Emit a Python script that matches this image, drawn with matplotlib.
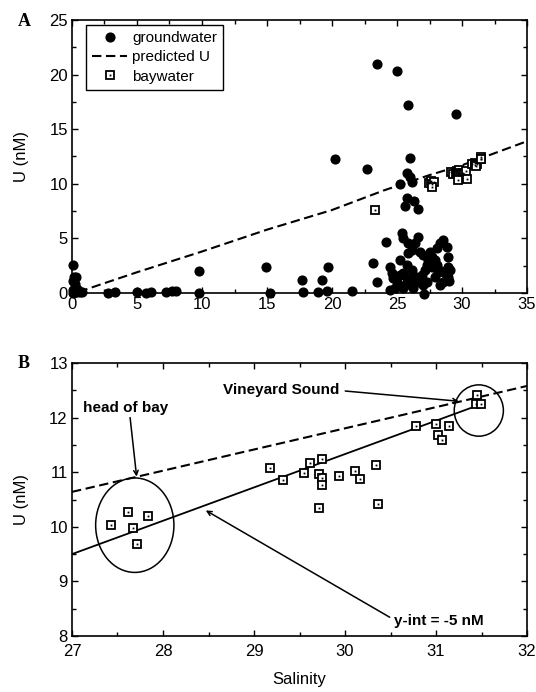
"""Uranium vs salinity: groundwater / baywater scatter with predicted mixing line."""

import matplotlib.pyplot as plt
from matplotlib.patches import Ellipse
from matplotlib.ticker import MultipleLocator

plt.rcParams["font.family"] = ["Liberation Sans", "DejaVu Sans"]

# groundwater samples (salinity, U nM)
gw_salinity = [
    0.1, 0.15, 0.3, 0.1, 0.2, 0.3, 0.1, 0.2, 0.4, 0.6, 0.8, 0.5, 0.05,
    2.8, 3.3, 5.0, 5.7, 6.05, 7.2, 7.67, 8.0, 9.8, 9.8,
    14.9, 15.2, 17.7, 17.8, 18.9, 19.2, 19.6, 19.7, 20.2, 21.5, 22.7,
    23.49, 24.97, 25.82, 29.54,
    26.0, 25.74, 25.99, 26.12, 25.23, 25.74, 26.30, 25.61, 26.64,
    24.15, 25.41, 25.48, 25.87, 26.12, 26.64, 26.38, 26.77, 26.97, 28.30,
    28.56, 28.82, 28.05, 27.53, 27.66, 27.41, 27.28, 27.15, 26.89, 26.77,
    27.02, 27.28, 23.18, 23.43, 24.46, 24.59, 24.71, 24.97, 25.23, 25.23,
    25.74, 25.48, 25.74, 25.61, 26.0, 26.25, 26.12, 24.46, 27.05, 27.92,
    28.18, 28.69, 28.95, 29.07, 28.95, 28.56, 28.30, 27.66, 28.05, 27.92,
    24.84, 26.25, 26.51, 25.48, 25.87, 28.9, 29.0, 28.4,
]
gw_u = [
    2.6, 1.5, 1.5, 1.1, 0.8, 0.5, 0.3, 0.1, 0.05, 0.1, 0.1, 0.3, 0.0,
    0.0, 0.12, 0.1, 0.0, 0.1, 0.1, 0.2, 0.2, 2.04, 0.0,
    2.35, 0.0, 1.19, 0.07, 0.07, 1.2, 0.2, 2.35, 12.24, 0.2, 11.4,
    20.97, 20.33, 17.19, 16.36,
    12.4, 10.96, 10.65, 10.2, 9.95, 8.67, 8.46, 7.97, 7.66,
    4.7, 5.46, 5.01, 4.55, 3.94, 5.10, 4.55, 3.79, 3.48, 4.55,
    4.85, 4.24, 4.09, 3.79, 3.33, 3.02, 2.56, 2.11, 1.65, 1.19,
    0.73, 1.04, 2.72, 1.04, 2.41, 1.8, 1.34, 1.04, 1.65, 3.02,
    2.56, 1.80, 1.34, 0.73, 0.89, 1.65, 2.11, 0.28, -0.05, 1.5,
    1.95, 1.8, 2.41, 2.11, 3.33, 1.04, 0.73, 2.41, 2.56, 3.02,
    0.43, 0.43, 1.04, 0.43, 3.63, 1.5, 1.1, 2.0,
]

# baywater samples (salinity, U nM)
bay_salinity = [
    27.43, 27.61, 27.67, 27.83, 27.71,
    29.18, 29.32, 29.55, 29.62, 29.75, 29.71, 29.75, 29.75, 29.93,
    30.11, 30.16, 30.34, 29.71, 30.36,
    30.78, 31.0, 31.14, 31.02, 31.07, 31.45, 31.44, 31.49,
]
bay_u = [
    10.04, 10.27, 9.98, 10.2, 9.68,
    11.07, 10.86, 10.99, 11.16, 11.24, 10.97, 10.9, 10.77, 10.93,
    11.03, 10.87, 11.13, 10.35, 10.41,
    11.85, 11.88, 11.85, 11.68, 11.59, 12.41, 12.25, 12.25,
]
# one extra baywater sample only shown on panel A
bay_extra_salinity = [23.3]
bay_extra_u = [7.57]

# predicted (conservative) U along the salinity gradient
pred_salinity = [0.5, 5, 10, 15, 20, 24, 27.5, 30, 35]
pred_u = [0.1, 1.9, 3.8, 5.8, 7.6, 9.4, 10.8, 11.7, 13.9]

# baywater regression line (panel B)
fit_salinity = [27.0, 31.42]
fit_u = [9.5, 12.2]

fig = plt.figure(figsize=(5.36, 6.92), dpi=100)
ax_a = fig.add_axes([0.1343, 0.5766, 0.849, 0.3945])
ax_b = fig.add_axes([0.1343, 0.0809, 0.849, 0.3945])

dash = (0, (4.5, 2.2))
sq_kw = dict(marker="s", ms=5.2, mfc="white", mec="black", mew=1.3, ls="none")
dot_kw = dict(marker="s", ms=1.3, mfc="black", mec="black", mew=0, ls="none")

# ---- panel A
ax_a.plot(pred_salinity, pred_u, color="black", lw=1.5, ls=dash, zorder=2)
gw, = ax_a.plot(gw_salinity, gw_u, "o", color="black", ms=6.3, ls="none", zorder=3, clip_on=False)
all_bay_s = bay_salinity + bay_extra_salinity
all_bay_u = bay_u + bay_extra_u
sq, = ax_a.plot(all_bay_s, all_bay_u, zorder=4, **sq_kw)
dt, = ax_a.plot(all_bay_s, all_bay_u, zorder=5, **dot_kw)
pred, = ax_a.plot([], [], color="black", lw=1.5, ls=dash)

ax_a.set_xlim(0, 35)
ax_a.set_ylim(0, 25)
ax_a.xaxis.set_major_locator(MultipleLocator(5))
ax_a.xaxis.set_minor_locator(MultipleLocator(2.5))
ax_a.yaxis.set_major_locator(MultipleLocator(5))
ax_a.yaxis.set_minor_locator(MultipleLocator(2.5))
ax_a.set_ylabel("U (nM)", fontsize=12)
ax_a.yaxis.set_label_coords(-0.095, 0.5)

leg = ax_a.legend(
    [gw, pred, (sq, dt)],
    ["groundwater", "predicted U", "baywater"],
    loc="upper left", bbox_to_anchor=(0.031, 0.982), borderaxespad=0,
    fontsize=11, numpoints=1, handlelength=2.3, handletextpad=0.3,
    fancybox=False, framealpha=1, edgecolor="black", borderpad=0.4, labelspacing=0.35,
)
leg.get_frame().set_linewidth(1.0)

# ---- panel B
ax_b.plot([27, 32], [10.64, 12.58], color="black", lw=1.5, ls=dash, zorder=2)
ax_b.plot(fit_salinity, fit_u, color="black", lw=1.3, zorder=2)
ax_b.plot(bay_salinity, bay_u, zorder=4, **sq_kw)
ax_b.plot(bay_salinity, bay_u, zorder=5, **dot_kw)

ax_b.add_patch(Ellipse((27.69, 10.03), 0.86, 1.73, fill=False, ec="black", lw=1.1))
ax_b.add_patch(Ellipse((31.47, 12.13), 0.54, 0.94, fill=False, ec="black", lw=1.1))

arrow = dict(arrowstyle="->", color="black", lw=1.1, shrinkA=0, shrinkB=0, mutation_scale=8)
ax_b.annotate("head of bay", xy=(27.71, 10.92), xytext=(27.12, 12.18),
              fontsize=11, fontweight="bold", ha="left", va="center",
              arrowprops=dict(arrow, relpos=(0.55, 0)))
ax_b.annotate("Vineyard Sound", xy=(31.25, 12.3), xytext=(28.66, 12.5),
              fontsize=11, fontweight="bold", ha="left", va="center",
              arrowprops=dict(arrow, relpos=(1.05, 0.45)))
ax_b.annotate("y-int = -5 nM", xy=(28.47, 10.30), xytext=(30.54, 8.28),
              fontsize=11, fontweight="bold", ha="left", va="center",
              arrowprops=dict(arrow, relpos=(-0.05, 0.75)))

ax_b.set_xlim(27, 32)
ax_b.set_ylim(8, 13)
ax_b.xaxis.set_major_locator(MultipleLocator(1))
ax_b.xaxis.set_minor_locator(MultipleLocator(0.5))
ax_b.yaxis.set_major_locator(MultipleLocator(1))
ax_b.yaxis.set_minor_locator(MultipleLocator(0.5))
ax_b.set_ylabel("U (nM)", fontsize=12)
ax_b.yaxis.set_label_coords(-0.095, 0.5)
ax_b.set_xlabel("Salinity", fontsize=12)
ax_b.xaxis.set_label_coords(0.5, -0.132)

for ax in (ax_a, ax_b):
    for sp in ax.spines.values():
        sp.set_linewidth(1.2)
    ax.tick_params(which="both", direction="in", top=True, right=True,
                   width=1.0, labelsize=12, pad=3)
    ax.tick_params(which="major", length=4)
    ax.tick_params(which="minor", length=3)
ax_b.tick_params(axis="x", which="both", pad=6)

fig.text(18 / 536, 1 - 22 / 692, "A", fontsize=13, fontweight="bold",
         family="Liberation Serif", ha="left", va="center")
fig.text(18 / 536, 1 - 364 / 692, "B", fontsize=13, fontweight="bold",
         family="Liberation Serif", ha="left", va="center")

fig.savefig("out.png", dpi=100)
